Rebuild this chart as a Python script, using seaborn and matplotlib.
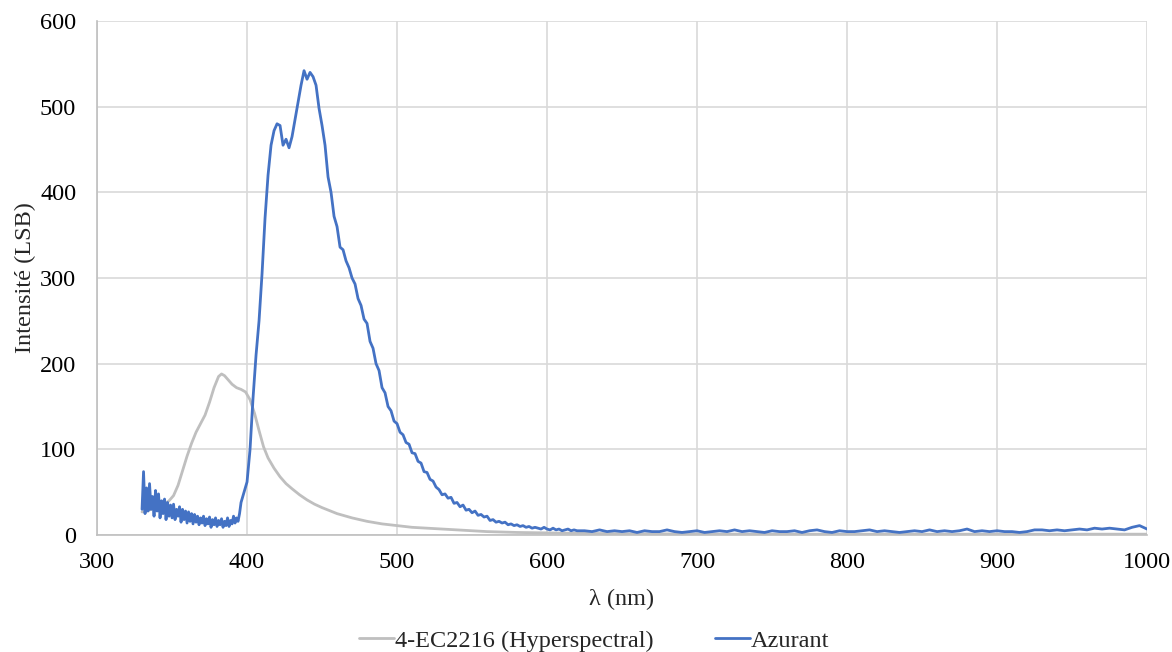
import numpy as np
import pandas as pd
import seaborn as sns
import matplotlib.pyplot as plt

# Azurant spectrum (blue)
azur_wl_a = np.arange(330, 401, 1)
azur_a = [30, 74, 25, 55, 28, 60, 30, 45, 22, 52,
          28, 48, 20, 40, 25, 42, 18, 38, 22, 35,
          20, 36, 18, 30, 22, 33, 15, 30, 18, 28,
          14, 27, 16, 25, 13, 24, 15, 22, 12, 20,
          14, 22, 11, 19, 13, 21, 9, 18, 12, 20,
          10, 17, 12, 19, 9, 16, 11, 20, 10, 17,
          13, 22, 14, 20, 16, 25, 38, 44, 50, 56, 62]
azur_wl_b = np.arange(402, 622, 2)
azur_b = [100, 160, 210, 250, 305, 370, 420, 455, 472, 480,
          478, 455, 462, 452, 465, 485, 505, 525, 542, 532,
          540, 535, 525, 498, 478, 455, 418, 400, 372, 360,
          336, 333, 320, 312, 300, 293, 276, 268, 252, 247,
          226, 218, 200, 192, 172, 166, 150, 145, 133, 130,
          120, 117, 108, 106, 96, 95, 86, 84, 74, 73,
          65, 63, 56, 53, 47, 48, 43, 44, 37, 38,
          33, 35, 29, 30, 26, 28, 23, 24, 21, 22,
          17, 18, 15, 16, 14, 15, 12, 13, 11, 12,
          10, 11, 9, 10, 8, 9, 8, 7, 9, 7,
          6, 8, 6, 7, 5, 6, 7, 5, 6, 5]
azur_wl_c = np.arange(625, 1001, 5)
azur_c = [5, 4, 6, 4, 5, 4, 5, 3, 5, 4,
          4, 6, 4, 3, 4, 5, 3, 4, 5, 4,
          6, 4, 5, 4, 3, 5, 4, 4, 5, 3,
          5, 6, 4, 3, 5, 4, 4, 5, 6, 4,
          5, 4, 3, 4, 5, 4, 6, 4, 5, 4,
          5, 7, 4, 5, 4, 5, 4, 4, 3, 4,
          6, 6, 5, 6, 5, 6, 7, 6, 8, 7,
          8, 7, 6, 9, 11, 7]

# 4-EC2216 (Hyperspectral) spectrum (gray)
hyper_wl = [330, 333, 336, 339, 342, 345, 348, 351, 354, 357,
            360, 363, 366, 369, 372, 375, 378, 381, 383, 385,
            387, 390, 393, 396, 399, 402, 405, 408, 411, 414,
            418, 422, 426, 430, 435, 440, 445, 450, 460, 470,
            480, 490, 500, 510, 520, 530, 540, 550, 560, 570,
            580, 600, 620, 650, 700, 750, 800, 850, 900, 950, 1000]
hyper = [27, 28, 30, 31, 33, 36, 40, 46, 58, 75,
         92, 107, 120, 130, 140, 155, 172, 185, 188, 186,
         182, 176, 172, 170, 167, 158, 142, 122, 103, 90,
         78, 68, 60, 54, 47, 41, 36, 32, 25, 20,
         16, 13, 11, 9, 8, 7, 6, 5, 4, 3.5,
         3, 2.5, 2, 1.5, 1.2, 1, 1, 1, 1, 1, 1]

label_hyper = "4-EC2216 (Hyperspectral)"
label_azur = "Azurant"

df_hyper = pd.DataFrame({"wl": hyper_wl, "val": hyper})
df_azur = pd.DataFrame({
    "wl": np.concatenate([azur_wl_a, azur_wl_b, azur_wl_c]),
    "val": azur_a + azur_b + azur_c,
})

sns.set_style("whitegrid")
plt.rcParams['font.family'] = ['Liberation Serif', 'DejaVu Serif']
fs = 17.5

fig = plt.figure(figsize=(11.72, 6.52), dpi=100)
ax = fig.add_axes([0.0828, 0.1794, 0.8959, 0.7884])

sns.lineplot(data=df_hyper, x="wl", y="val", ax=ax, color="#BFBFBF",
             linewidth=2.0, label=label_hyper, legend=False)
sns.lineplot(data=df_azur, x="wl", y="val", ax=ax, color="#4472C4",
             linewidth=2.0, label=label_azur, legend=False)

ax.set_xlim(300, 1000)
ax.set_ylim(0, 600)
ax.set_xticks(range(300, 1001, 100))
ax.set_yticks(range(0, 601, 100))
ax.grid(True, color="#D9D9D9", linewidth=1.2)
for side in ["top", "right"]:
    ax.spines[side].set_visible(False)
for side in ["left", "bottom"]:
    ax.spines[side].set_color("#BFBFBF")
    ax.spines[side].set_linewidth(1.2)
ax.tick_params(axis="x", length=0, labelsize=fs, colors="black", pad=12)
ax.tick_params(axis="y", length=0, labelsize=fs, colors="black", pad=15)

ax.set_xlabel("λ (nm)", fontsize=fs, labelpad=12)
ax.set_ylabel("Intensité (LSB)", fontsize=fs, labelpad=3)

handles, labels = ax.get_legend_handles_labels()
fig.legend(handles, labels, loc="center", bbox_to_anchor=(0.507, 0.017),
           ncol=2, frameon=False, fontsize=fs, handlelength=1.45,
           handletextpad=0.05, columnspacing=2.5)

fig.savefig("out.png", dpi=100)
